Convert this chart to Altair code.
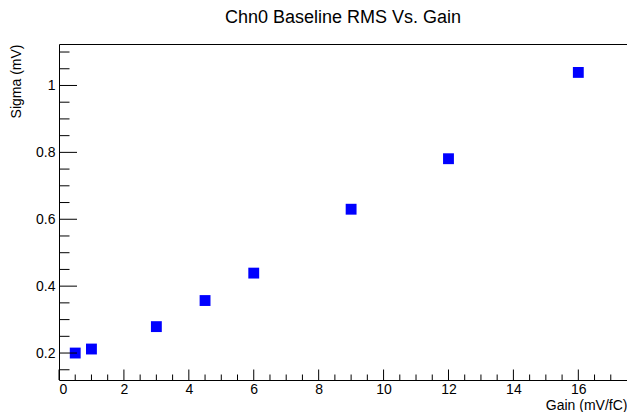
import altair as alt
import pandas as pd

# Data
gain = [0.5, 1, 3, 4.5, 6, 9, 12, 16]
sigma = [0.200, 0.212, 0.279, 0.357, 0.439, 0.630, 0.781, 1.039]

x_major = [0, 2, 4, 6, 8, 10, 12, 14, 16]
x_minor = [0.5, 1, 1.5, 2.5, 3, 3.5, 4.5, 5, 5.5, 6.5, 7, 7.5, 8.5, 9, 9.5,
           10.5, 11, 11.5, 12.5, 13, 13.5, 14.5, 15, 15.5, 16.5, 17]
y_major = [0.2, 0.4, 0.6, 0.8, 1.0]
y_minor = [0.15, 0.25, 0.3, 0.35, 0.45, 0.5, 0.55, 0.65, 0.7, 0.75,
           0.85, 0.9, 0.95, 1.05, 1.1]

X_DOMAIN = [0, 17.5]
Y_DOMAIN = [0.1194, 1.124]
W, H = 568, 336
FONT = "Liberation Sans"

xs = alt.Scale(domain=X_DOMAIN, nice=False, zero=False)
ys = alt.Scale(domain=Y_DOMAIN, nice=False, zero=False)

x_axis = alt.Axis(title="Gain (mV/fC)", values=x_major, format="d",
                  ticks=False, domain=False, grid=False,
                  labelFont=FONT, labelFontSize=14, labelColor="black",
                  labelPadding=2,
                  titleFont=FONT, titleFontSize=14, titleFontWeight="normal",
                  titleColor="black", titleX=W, titleY=29,
                  titleAlign="right", titleBaseline="alphabetic")
y_axis = alt.Axis(title="Sigma (mV)", values=y_major, format="~g",
                  ticks=False, domain=False, grid=False,
                  labelFont=FONT, labelFontSize=14, labelColor="black",
                  labelPadding=4,
                  titleFont=FONT, titleFontSize=14, titleFontWeight="normal",
                  titleColor="black", titleX=-43, titleY=0,
                  titleAngle=270, titleAlign="right",
                  titleBaseline="middle")

df = pd.DataFrame({"gain": gain, "sigma": sigma})

points = alt.Chart(df).mark_square(size=118, color="#0000ff", opacity=1).encode(
    x=alt.X("gain:Q", scale=xs, axis=x_axis),
    y=alt.Y("sigma:Q", scale=ys, axis=y_axis),
)

def xticks(vals, length):
    return alt.Chart(pd.DataFrame({"v": vals})).mark_rule(
        color="black", strokeWidth=1).encode(
        x=alt.X("v:Q", scale=xs, axis=x_axis),
        y=alt.value(H), y2=alt.value(H - length))

def yticks(vals, length):
    return alt.Chart(pd.DataFrame({"v": vals})).mark_rule(
        color="black", strokeWidth=1).encode(
        y=alt.Y("v:Q", scale=ys, axis=y_axis),
        x=alt.value(0), x2=alt.value(length))

chart = alt.layer(
    points,
    xticks(x_major, 10.5), xticks(x_minor, 5.5),
    yticks(y_major, 18), yticks(y_minor, 10.5),
).properties(
    width=W, height=H,
    title=alt.TitleParams("Chn0 Baseline RMS Vs. Gain", font=FONT, fontSize=18,
                          fontWeight="normal", color="black", anchor="middle",
                          offset=17),
    autosize=alt.AutoSizeParams(type="none"),
    padding={"left": 51, "top": 36, "right": 0, "bottom": 32},
).configure_view(stroke="black", strokeWidth=1)

chart.save("out.html", embed_options={"renderer": "svg", "actions": False})
